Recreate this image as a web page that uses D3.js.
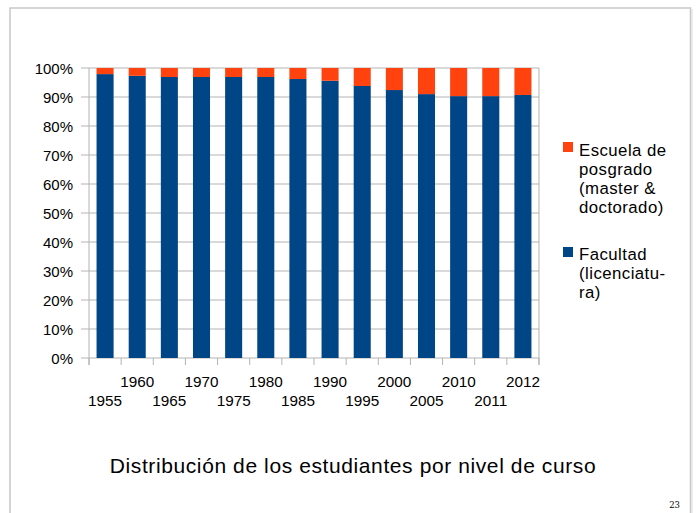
<!DOCTYPE html>
<html><head><meta charset="utf-8">
<script src="https://cdn.jsdelivr.net/npm/d3@7"></script>
<style>html,body{margin:0;padding:0;background:#fff;}svg{display:block;}</style>
</head><body>
<script>
const years = ["1955","1960","1965","1970","1975","1980","1985","1990","1995","2000","2005","2010","2011","2012"];
const facultad = [97.9, 97.3, 96.9, 96.9, 96.9, 96.9, 96.2, 95.6, 93.8, 92.4, 91.0, 90.3, 90.3, 90.7];
const posgrado = facultad.map(v => +(100 - v).toFixed(1));
const yTicks = [0,10,20,30,40,50,60,70,80,90,100];
const colors = {posgrado: "#ff420e", facultad: "#004586"};
const titleText = "Distribución de los estudiantes por nivel de curso";

(function(){
const W = 698, H = 513;
const svg = d3.select("body").append("svg").attr("width", W).attr("height", H);
const font = "'Liberation Sans', Arial, sans-serif";

// slide frame
svg.append("path").attr("d", `M10,${H} L10,8 L690.5,8 L690.5,${H}`)
  .attr("fill","none").attr("stroke","#c8c8c8").attr("stroke-width",1.5);
svg.append("line").attr("x1",692).attr("x2",692).attr("y1",9).attr("y2",H)
  .attr("stroke","#e4e4e4").attr("stroke-width",1.5);

const pL = 89, pR = 539, pT = 68, pB = 358;
const x = d3.scaleBand().domain(years).range([pL, pR]).paddingInner(0.47).paddingOuter(0.235);
const xb = d3.scaleBand().domain(years).range([pL, pR]);
const y = d3.scaleLinear().domain([0,100]).range([pB, pT]);

// gridlines
svg.append("g").selectAll("line").data(yTicks).join("line")
  .attr("x1", pL - 8).attr("x2", pR).attr("y1", d => y(d)).attr("y2", d => y(d))
  .attr("stroke","#b3b3b3").attr("stroke-width",1);
svg.append("line").attr("x1",pL).attr("x2",pL).attr("y1",pT).attr("y2",pB+7).attr("stroke","#b3b3b3");
svg.append("line").attr("x1",pR).attr("x2",pR).attr("y1",pT).attr("y2",pB+7).attr("stroke","#b3b3b3");

// y labels
svg.append("g").selectAll("text").data(yTicks).join("text")
  .attr("x", 73).attr("y", d => y(d) + 5.5).attr("text-anchor","end")
  .attr("font-family", font).attr("font-size", 15).attr("fill","#000")
  .text(d => d + "%");

// x ticks at category boundaries
const bounds = years.map(d => xb(d)).concat([pR]);
svg.append("g").selectAll("line").data(bounds).join("line")
  .attr("x1", d => d).attr("x2", d => d).attr("y1", pB).attr("y2", pB + 7)
  .attr("stroke","#b3b3b3");

// bars
const stackData = years.map((yr,i) => ({year: yr, facultad: facultad[i], posgrado: posgrado[i]}));
const stack = d3.stack().keys(["facultad","posgrado"])(stackData);
svg.append("g").selectAll("g").data(stack).join("g")
  .attr("fill", d => colors[d.key])
  .selectAll("rect").data(d => d).join("rect")
  .attr("x", d => x(d.data.year)).attr("width", x.bandwidth())
  .attr("y", d => y(d[1])).attr("height", d => y(d[0]) - y(d[1]));

// x labels staggered
svg.append("g").selectAll("text").data(years).join("text")
  .attr("x", d => xb(d) + xb.bandwidth()/2)
  .attr("y", (d,i) => i % 2 === 0 ? 406 : 387)
  .attr("text-anchor","middle").attr("font-family", font).attr("font-size", 15.3).attr("fill","#000")
  .text(d => d);

// legend
const legend = [
  {color: colors.posgrado, sq: 142, lines: ["Escuela de","posgrado","(master &","doctorado)"], base: 156},
  {color: colors.facultad, sq: 247, lines: ["Facultad","(licenciatu-","ra)"], base: 260}
];
legend.forEach(l => {
  svg.append("rect").attr("x",563).attr("y",l.sq).attr("width",10).attr("height",10).attr("fill",l.color);
  svg.append("g").selectAll("text").data(l.lines).join("text")
    .attr("x",579).attr("y",(d,i) => l.base + i*19)
    .attr("font-family", font).attr("font-size", 16.8).attr("letter-spacing", 0.45)
    .attr("fill","#000").text(d => d);
});

// title
svg.append("text").attr("x", 353).attr("y", 473).attr("text-anchor","middle")
  .attr("font-family", font).attr("font-size", 21).attr("letter-spacing", 0.6)
  .attr("fill","#000").text(titleText);

// page number
svg.append("text").attr("x", 680).attr("y", 508).attr("text-anchor","end")
  .attr("font-family", "'DejaVu Serif', 'Liberation Serif', serif").attr("font-size", 8.5).attr("fill","#000").text("23");
})();
</script>
</body></html>
